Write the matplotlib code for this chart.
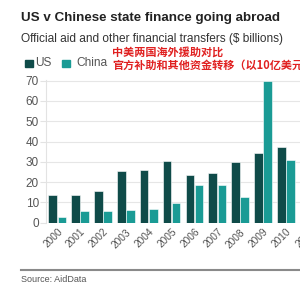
import matplotlib.pyplot as plt
import numpy as np

years = ['2000', '2001', '2002', '2003', '2004', '2005', '2006', '2007',
         '2008', '2009', '2010', '2011']
us = [13.5, 13.8, 15.5, 25.6, 26.0, 30.2, 23.6, 24.3, 29.9, 34.5, 37.1]
china = [3.0, 5.6, 5.6, 6.3, 6.6, 9.6, 18.7, 18.4, 12.8, 69.7, 30.9]

us_col = '#0f4b49'
cn_col = '#1a9b95'
grey = '#555555'

fig = plt.figure(figsize=(3, 3), dpi=100)
ax = fig.add_axes([0.153, 0.2577, 0.914, 0.4733 * 70.5 / 70])

x = np.arange(len(us))
ax.bar(x - 0.2, us, width=0.38, color=us_col, edgecolor='white', linewidth=0.4, zorder=3)
ax.bar(x + 0.2, china, width=0.38, color=cn_col, edgecolor='white', linewidth=0.4, zorder=3)

ax.set_xlim(-0.5, 11.5)
ax.set_ylim(0, 70.5)
ax.set_yticks(range(0, 71, 10))
ax.set_xticks(range(len(years)))
ax.set_xticklabels(years, rotation=45, ha='right', rotation_mode='anchor',
                   fontsize=7.3, color=grey, family='Liberation Sans')
ax.tick_params(axis='x', length=0, pad=3)
ax.tick_params(axis='y', length=4, color='#e3e3e3', labelsize=8.5, labelcolor=grey, pad=1)
for lab in ax.get_yticklabels():
    lab.set_family('Liberation Sans')
ax.grid(axis='y', color='#e6e6e6', linewidth=0.8, zorder=0)
for s in ['top', 'right', 'bottom']:
    ax.spines[s].set_visible(False)
ax.spines['left'].set_color('#e3e3e3')
ax.spines['left'].set_linewidth(0.8)

fig.text(0.07, 0.94, 'US v Chinese state finance going abroad', fontsize=9.6,
         fontweight='bold', family='Liberation Sans', color='#222222', va='center')
fig.text(0.07, 0.87, 'Official aid and other financial transfers ($ billions)',
         fontsize=8.6, family='Liberation Sans', color='#333333', va='center')

# legend
fig.patches.append(plt.Rectangle((25 / 300, 1 - 67 / 300), 8 / 300, 7 / 300,
                                 transform=fig.transFigure, color=us_col))
fig.text(35 / 300, 1 - 63.5 / 300, 'US', fontsize=8.6, family='Liberation Sans',
         color=grey, va='center')
fig.patches.append(plt.Rectangle((62 / 300, 1 - 67 / 300), 8 / 300, 7 / 300,
                                 transform=fig.transFigure, color=cn_col))
fig.text(76 / 300, 1 - 63.5 / 300, 'China', fontsize=8.6, family='Liberation Sans',
         color=grey, va='center')

fig.text(112 / 300, 1 - 52.5 / 300, '中美两国海外援助对比', fontsize=8, fontweight='bold',
         family=['Noto Sans CJK SC', 'DejaVu Sans'], color='#e02020', va='center')
fig.text(112 / 300, 1 - 65 / 300, '官方补助和其他资金转移（以10亿美元计）', fontsize=8,
         fontweight='bold', family=['Noto Sans CJK SC', 'DejaVu Sans'],
         color='#e02020', va='center')

fig.add_artist(plt.Line2D([21 / 300, 1.0], [1 - 269.5 / 300] * 2,
                          transform=fig.transFigure, color='#8a8a8a', linewidth=1.5))
fig.text(21 / 300, 1 - 279 / 300, 'Source: AidData', fontsize=6.5,
         family='Liberation Sans', color=grey, va='center')

fig.savefig('out.png', dpi=100)
